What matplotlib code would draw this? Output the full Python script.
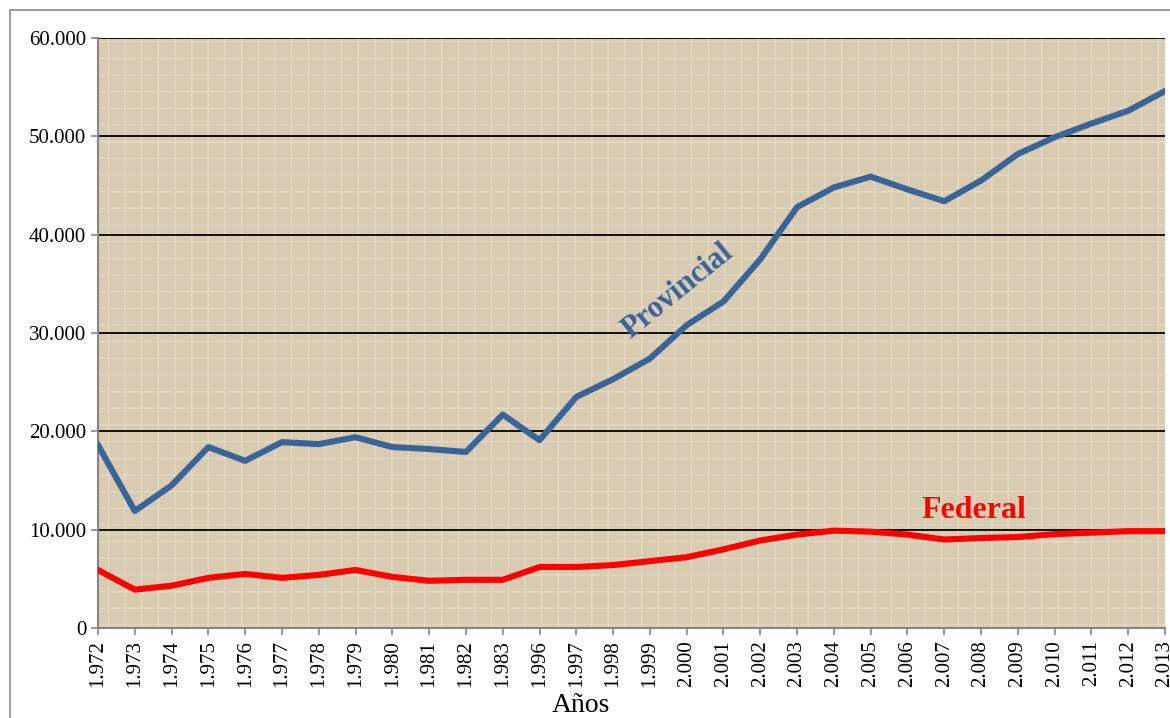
import matplotlib
matplotlib.use('Agg')
import matplotlib.pyplot as plt
from matplotlib.patches import Rectangle

# Data
years = [1972, 1973, 1974, 1975, 1976, 1977, 1978, 1979, 1980, 1981, 1982, 1983,
         1996, 1997, 1998, 1999, 2000, 2001, 2002, 2003, 2004, 2005, 2006, 2007,
         2008, 2009, 2010, 2011, 2012, 2013]
provincial = [18600, 11900, 14500, 18400, 17000, 18900, 18700, 19400, 18400, 18200,
              17900, 21700, 19100, 23500, 25300, 27400, 30800, 33200, 37500, 42800,
              44800, 45900, 44600, 43400, 45500, 48200, 49900, 51300, 52600, 54600]
federal = [5900, 3900, 4300, 5100, 5500, 5100, 5400, 5900, 5200, 4800,
           4900, 4900, 6200, 6200, 6400, 6800, 7200, 8000, 8900, 9500,
           9900, 9800, 9500, 9000, 9150, 9250, 9550, 9700, 9850, 9850]
year_labels = ['{:,}'.format(y).replace(',', '.') for y in years]
y_ticks = [0, 10000, 20000, 30000, 40000, 50000, 60000]
y_labels = ['{:,}'.format(v).replace(',', '.') for v in y_ticks]

plt.rcParams['font.family'] = ['Liberation Serif', 'DejaVu Serif']

fig = plt.figure(figsize=(11.7, 7.18), dpi=100)
fig.patches.append(Rectangle((10 / 1170, -0.1), 1.2, 1 - 10 / 718 + 0.1,
                             transform=fig.transFigure, fill=False,
                             edgecolor='#8c8c8c', linewidth=1.2))
ax = fig.add_axes([98 / 1170, 1 - 628 / 718, 1067 / 1170, 590 / 718])

# canvas-like background
ax.set_facecolor('#d8cbb2')
ax.add_patch(Rectangle((0, 0), 1, 1, transform=ax.transAxes, facecolor='none',
                       hatch='+', edgecolor='#e3d9c5', linewidth=0, zorder=0.5))

x = list(range(len(years)))
ax.plot(x, provincial, color='#3a6398', linewidth=4.4, solid_joinstyle='round', zorder=3)
ax.plot(x, federal, color='#ff0000', linewidth=4.4, solid_joinstyle='round', zorder=3)

for v in y_ticks[1:]:
    ax.axhline(v, color='black', linewidth=1.3, zorder=2)

ax.set_xlim(0, len(years) - 1)
ax.set_ylim(0, 60000)
ax.set_xticks(x)
ax.set_xticklabels(year_labels, rotation=90, fontsize=15)
ax.set_yticks(y_ticks)
ax.set_yticklabels(y_labels, fontsize=15)
ax.tick_params(axis='both', color='#868686', length=5, width=1.2, direction='out')
for s in ['top', 'right']:
    ax.spines[s].set_visible(False)
for s in ['left', 'bottom']:
    ax.spines[s].set_color('#868686')
    ax.spines[s].set_linewidth(1.5)

ax.set_xlabel('Años', fontsize=20)
ax.xaxis.set_label_coords(0.453, -0.11)

ax.text(15.75, 34300, 'Provincial', color='#3a6398', fontsize=22, fontweight='bold',
        rotation=39, ha='center', va='center', zorder=4)
ax.text(23.8, 11900, 'Federal', color='#ff0000', fontsize=23, fontweight='bold',
        ha='center', va='center', zorder=4)

fig.savefig('out.png', dpi=100)
